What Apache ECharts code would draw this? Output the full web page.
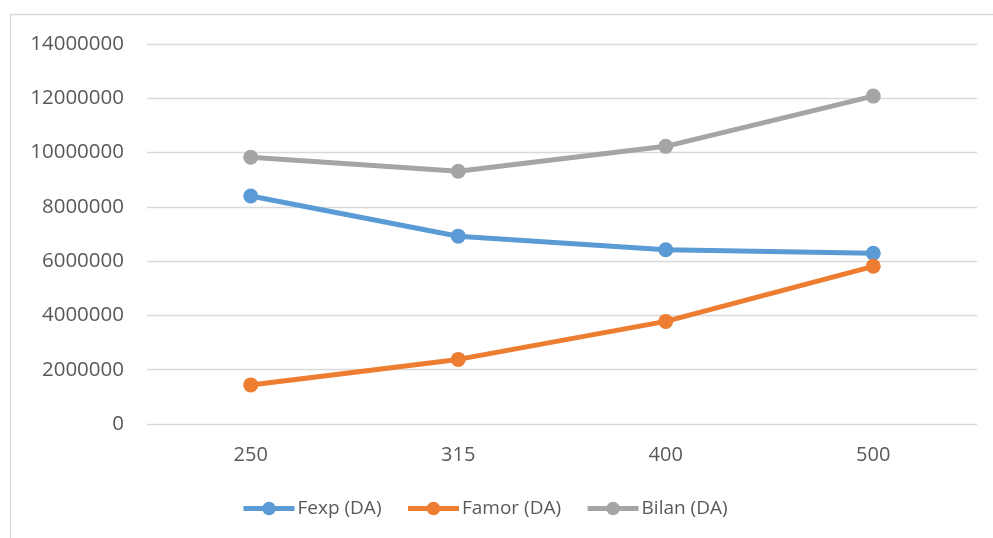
<!DOCTYPE html>
<html>
<head>
<meta charset="utf-8">
<script src="https://cdn.jsdelivr.net/npm/echarts@6/dist/echarts.min.js"></script>
<style>
html,body{margin:0;padding:0;background:#fff;}
#c{width:993px;height:538px;}
</style>
</head>
<body>
<div id="c"></div>
<script>
var categories = ['250', '315', '400', '500'];
var fexp = [8400000, 6920000, 6420000, 6290000];
var famor = [1440000, 2380000, 3780000, 5810000];
var bilan = [9830000, 9310000, 10230000, 12080000];
var seriesNames = ['Fexp (DA)', 'Famor (DA)', 'Bilan (DA)'];
var yTicks = {min: 0, max: 14000000, interval: 2000000};

var FONT = 'Open Sans';
var chart = echarts.init(document.getElementById('c'));
function mk(name, data, color) {
  return {
    name: name, type: 'line', data: data,
    symbol: 'circle', symbolSize: 15,
    lineStyle: {width: 5, color: color},
    itemStyle: {color: color},
    emphasis: {disabled: true},
    animation: false
  };
}
chart.setOption({
  animation: false,
  color: ['#5B9BD5', '#ED7D31', '#A5A5A5'],
  graphic: [{
    type: 'rect', z: -1,
    shape: {x: 10.5, y: 14.5, width: 1000, height: 600},
    style: {fill: 'none', stroke: '#D9D9D9', lineWidth: 1.3}
  }],
  grid: {left: 147, right: 16, top: 44, bottom: 114, containLabel: false},
  xAxis: {
    type: 'category', data: categories, boundaryGap: true,
    axisLine: {show: false}, axisTick: {show: false},
    axisLabel: {color: '#595959', fontSize: 20, fontFamily: FONT, margin: 21}
  },
  yAxis: {
    type: 'value', min: yTicks.min, max: yTicks.max, interval: yTicks.interval,
    axisLine: {show: false}, axisTick: {show: false},
    splitLine: {lineStyle: {color: '#D9D9D9', width: 1.3}},
    axisLabel: {color: '#595959', fontSize: 20.5, fontFamily: FONT, margin: 23,
      formatter: function (v) { return String(v); }}
  },
  legend: {
    left: 241, top: 499, padding: 0,
    itemWidth: 51, itemHeight: 17, itemGap: 24,
    lineStyle: {width: 5},
    textStyle: {color: '#595959', fontSize: 19, fontFamily: FONT, padding: [0,0,0,-2]},
    data: seriesNames
  },
  series: [
    mk(seriesNames[0], fexp, '#5B9BD5'),
    mk(seriesNames[1], famor, '#ED7D31'),
    mk(seriesNames[2], bilan, '#A5A5A5')
  ]
});
</script>
</body>
</html>
